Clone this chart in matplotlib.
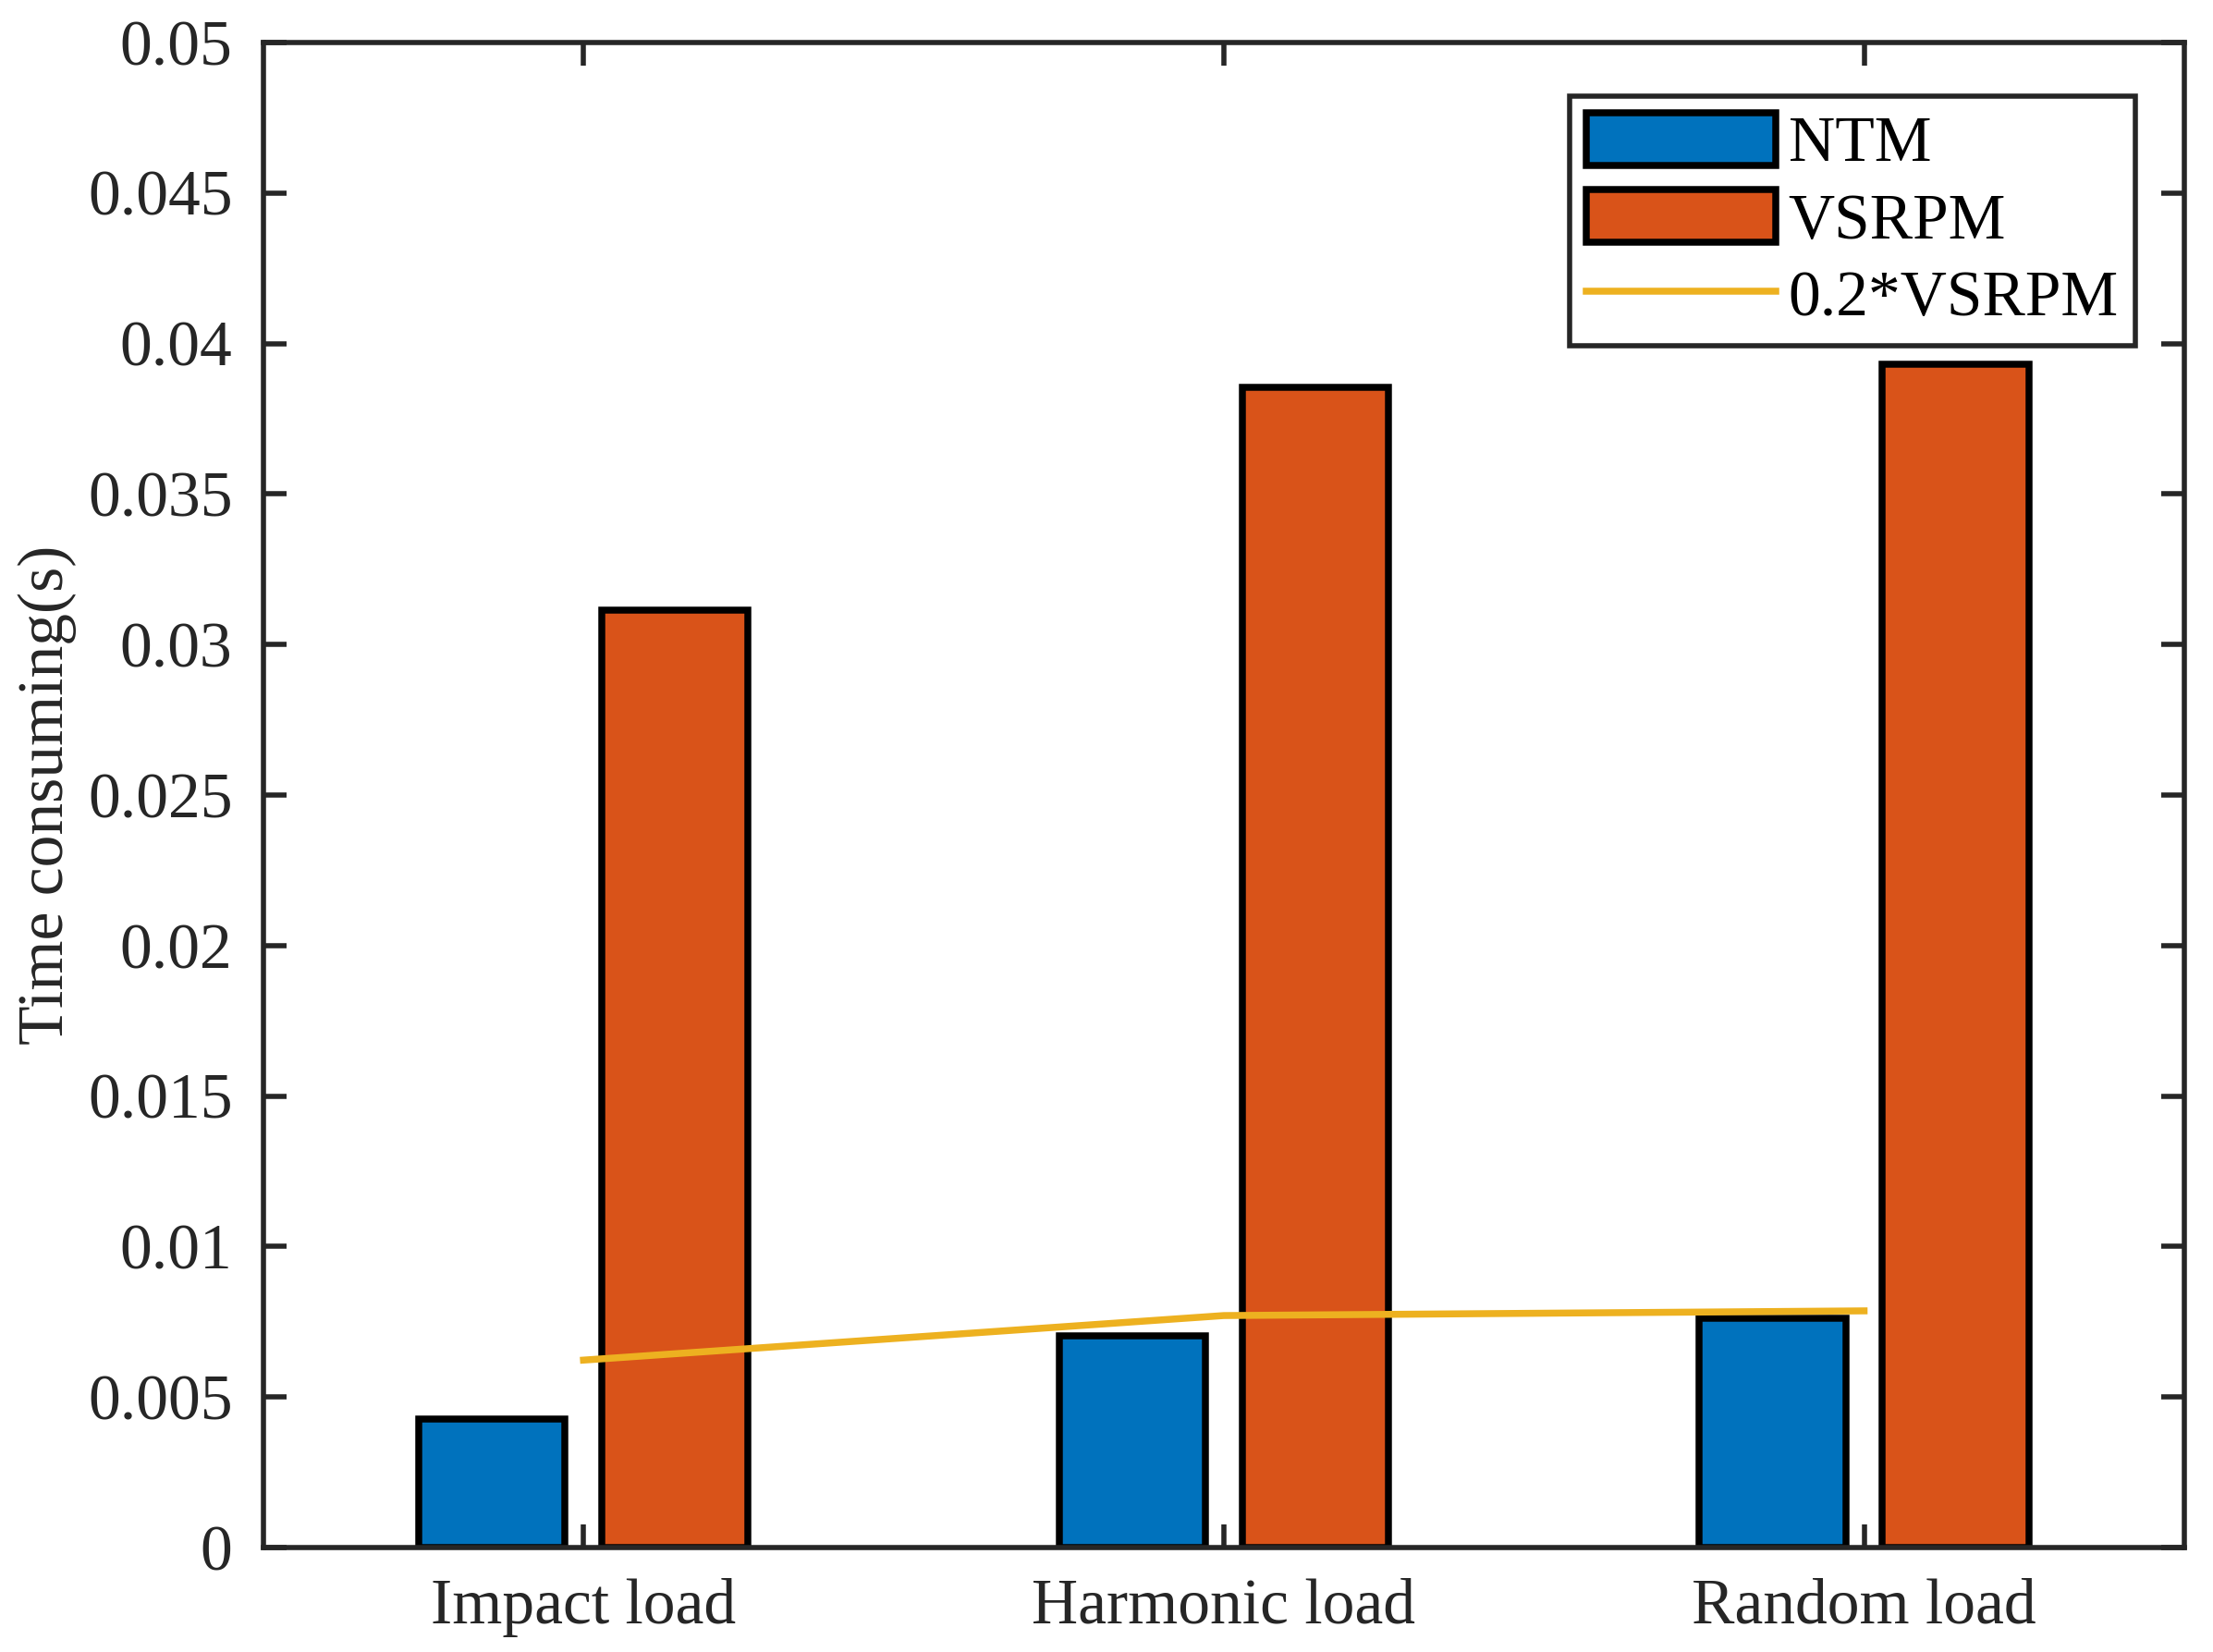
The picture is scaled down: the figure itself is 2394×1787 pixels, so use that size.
import numpy as np
import matplotlib
matplotlib.use("Agg")
import matplotlib.pyplot as plt

# data
categories = ['Impact load', 'Harmonic load', 'Random load']
ntm = [0.00427, 0.00703, 0.00762]
vsrpm = [0.03114, 0.03854, 0.03932]
vsrpm_02 = [0.2 * v for v in vsrpm]
y_ticks = np.round(np.arange(0, 0.0501, 0.005), 3)

plt.rcParams['font.family'] = ['Liberation Serif', 'DejaVu Serif']
plt.rcParams['font.size'] = 25
dark = '#262626'

fig = plt.figure(figsize=(11.97, 8.935), dpi=200)
ax = fig.add_axes([0.119, 0.0632, 0.868, 0.9111])

x = np.arange(1, len(categories) + 1)
off = 0.1429
w = 0.2286
b1 = ax.bar(x - off, ntm, w, color='#0072BD', edgecolor='black', linewidth=2.7, label='NTM', zorder=2)
b2 = ax.bar(x + off, vsrpm, w, color='#D95319', edgecolor='black', linewidth=2.7, label='VSRPM', zorder=2)
l1, = ax.plot(x, vsrpm_02, color='#EDB120', linewidth=2.7, label='0.2*VSRPM', zorder=3)

ax.set_xlim(0.5, 3.5)
ax.set_ylim(0, 0.05)
ax.set_xticks(x)
ax.set_xticklabels(categories)
ax.set_yticks(y_ticks)
ax.set_yticklabels([f'{v:g}' for v in y_ticks])

ax.tick_params(direction='in', length=9, width=2, colors=dark, labelcolor=dark,
               top=True, right=True, pad=12)
for s in ax.spines.values():
    s.set_linewidth(2)
    s.set_color(dark)

ax.set_ylabel('Time consuming(s)', color=dark)
ax.yaxis.set_label_coords(-0.097, 0.5)

leg = ax.legend([b1, b2, l1], ['NTM', 'VSRPM', '0.2*VSRPM'],
                loc='upper right', bbox_to_anchor=(0.9745, 0.9644), borderaxespad=0,
                fancybox=False, framealpha=1, edgecolor=dark,
                handlelength=2.95, handleheight=0.88, handletextpad=0.2,
                labelspacing=0.23, borderpad=0.26)
leg.get_frame().set_linewidth(2)

fig.savefig('out.png', dpi=200)
